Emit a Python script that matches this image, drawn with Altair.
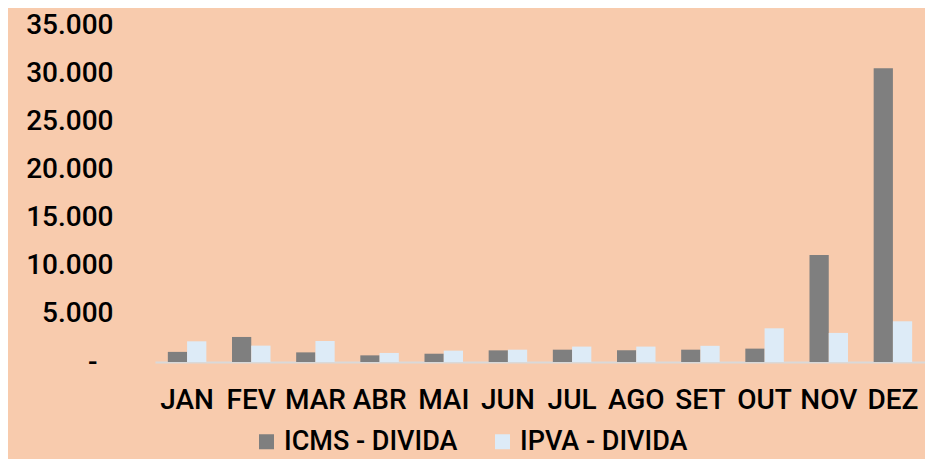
import altair as alt
import pandas as pd

meses = ["JAN", "FEV", "MAR", "ABR", "MAI", "JUN", "JUL", "AGO", "SET", "OUT", "NOV", "DEZ"]
icms = [1050, 2600, 1000, 690, 860, 1210, 1280, 1220, 1280, 1390, 11100, 30500]
ipva = [2150, 1700, 2180, 940, 1180, 1280, 1600, 1600, 1680, 3500, 3020, 4230]
series = ["ICMS - DIVIDA", "IPVA - DIVIDA"]
colors = ["#7F7F7F", "#DDEBF7"]

rows = []
for i, m in enumerate(meses):
    rows.append({"mes": m, "serie": series[0], "valor": icms[i]})
    rows.append({"mes": m, "serie": series[1], "valor": ipva[i]})
df = pd.DataFrame(rows)

FONT = "Roboto"
WEIGHT = 500

chart = alt.Chart(df).mark_bar().encode(
    x=alt.X("mes:N", sort=meses, title=None,
            scale=alt.Scale(paddingInner=0.4, paddingOuter=0.2),
            axis=alt.Axis(labelAngle=0, ticks=False, domain=True, domainColor="#D9D9D9",
                          domainWidth=2, labelFontSize=28, labelFont=FONT, labelFontWeight=WEIGHT,
                          labelColor="#000000", labelPadding=24, grid=False)),
    xOffset=alt.XOffset("serie:N", sort=series, scale=alt.Scale(paddingInner=0, paddingOuter=0)),
    y=alt.Y("valor:Q", title=None,
            scale=alt.Scale(domain=[0, 35000], nice=False),
            axis=alt.Axis(values=[0, 5000, 10000, 15000, 20000, 25000, 30000, 35000],
                          labelExpr="datum.value == 0 ? '-' : replace(format(datum.value, ','), ',', '.')",
                          ticks=False, domain=False, grid=False, labelFontSize=28, labelFont=FONT,
                          labelFontWeight=WEIGHT, labelColor="#000000",
                          labelPadding={"condition": {"test": "datum.value == 0", "value": 58}, "value": 42})),
    color=alt.Color("serie:N", sort=series, scale=alt.Scale(domain=series, range=colors),
                    legend=alt.Legend(title=None, orient="none", direction="horizontal",
                                      legendX=98, legendY=403, symbolType="square",
                                      symbolSize=225, symbolStrokeWidth=0, labelFontSize=27,
                                      labelFont=FONT, labelFontWeight=WEIGHT, labelColor="#000000",
                                      labelOffset=4, columnPadding=31, labelLimit=400)),
).properties(
    width=770, height=337,
    autosize=alt.AutoSizeParams(type="none"),
    padding={"left": 147, "top": 17, "right": 0, "bottom": 97},
    background="#F8CBAD",
).configure_view(stroke=None)

chart.save("out.html", embed_options={"renderer": "svg", "actions": False})
